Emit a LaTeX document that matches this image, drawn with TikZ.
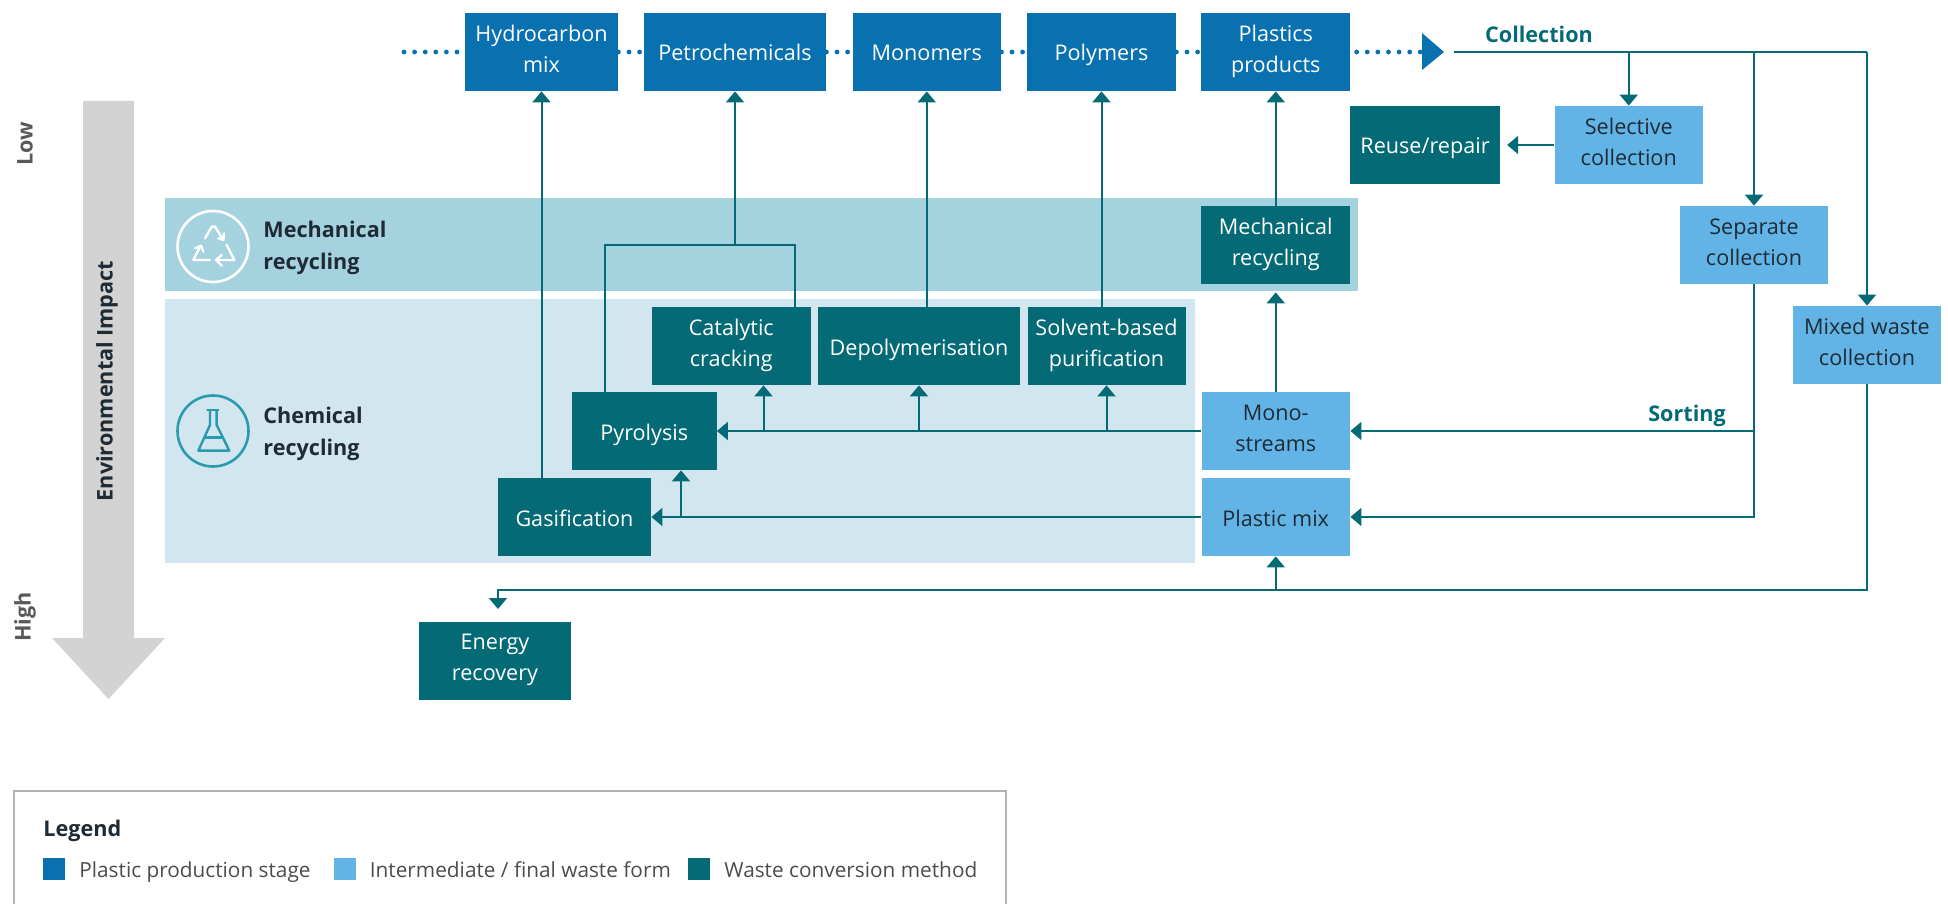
\documentclass[tikz,border=0pt]{standalone}
\usepackage{fontspec}
\setmainfont{Open Sans}
\usetikzlibrary{arrows.meta}

\definecolor{prodblue}{HTML}{0A71B1}
\definecolor{wasteblue}{HTML}{62B4E6}
\definecolor{convteal}{HTML}{046A75}
\definecolor{mechband}{HTML}{A5D2DF}
\definecolor{chemband}{HTML}{D1E6EE}
\definecolor{impactgray}{HTML}{D3D3D3}
\definecolor{darktext}{HTML}{1E2B35}
\definecolor{flaskteal}{HTML}{2A9BAE}

\tikzset{
    stagebox/.style={minimum height=39pt, inner sep=0pt, align=center, font=\fontsize{10.8}{15.5}\selectfont,
        execute at begin node={\rule{0pt}{12pt}}, execute at end node={\rule[-3pt]{0pt}{3pt}}},
    twolines/.style={execute at begin node={\rule{0pt}{15.6pt}}},
    prodbox/.style={stagebox, fill=prodblue, text=white},
    wastebox/.style={stagebox, fill=wasteblue, text=darktext},
    convbox/.style={stagebox, fill=convteal, text=white},
    link/.style={draw=convteal, line width=1pt},
    flow/.style={link, -{Triangle[width=9pt,length=5.5pt]}},
    dotted row/.style={draw=prodblue, line width=2.4pt, line cap=round, dash pattern=on 0pt off 5.3pt},
    bandlabel/.style={anchor=west, inner sep=0pt, align=left, text=darktext, font=\fontsize{10.8}{16}\selectfont\bfseries},
    sidelabel/.style={rotate=90, text=black!65, font=\fontsize{10.8}{13}\selectfont\bfseries},
    legendtext/.style={anchor=base west, inner sep=0pt, text=black!70, font=\fontsize{10.4}{12}\selectfont},
    legendkey/.style={minimum size=11pt, inner sep=0pt}
}

\begin{document}
\begin{tikzpicture}[x=0.5pt, y=-0.5pt]

    \useasboundingbox (0,0) rectangle (1948,904);

    % bands
    \fill[mechband] (165,198) rectangle (1358,291);
    \fill[chemband] (165,299) rectangle (1195,563);

    % impact arrow
    \fill[impactgray] (83,101) -- (134,101) -- (134,638) -- (165,638) -- (108.5,699) -- (52,638) -- (83,638) -- cycle;
    \node[sidelabel] (Low) at (25,144) {Low};
    \node[sidelabel] (High) at (25,617) {High};
    \node[sidelabel, text=darktext] (Impact) at (107,381) {Environmental Impact};

    % band icons
    \node[draw=white, line width=1.3pt, circle, minimum size=35.5pt, inner sep=0pt] (MechIcon) at (213,246.5) {};
    \node[draw=flaskteal, line width=1.3pt, circle, minimum size=35.5pt, inner sep=0pt] (ChemIcon) at (213,431) {};
    \begin{scope}[shift={(170,205)}, x=0.1667pt, y=-0.1667pt, draw=white, line width=1.2pt, line join=round, line cap=round]
        \draw (105,100) -- (125,65) -- (135,65) -- (160,105);
        \draw (145,100) -- (160,105) -- (162,85);
        \draw (90,125) -- (70,165) -- (120,165);
        \draw (75,130) -- (93,122) -- (100,140);
        \draw (170,120) -- (193,165) -- (140,165);
        \draw (155,150) -- (138,165) -- (155,182);
    \end{scope}
    \begin{scope}[shift={(170,390)}, x=0.1667pt, y=-0.1667pt, draw=flaskteal, line width=1.2pt, line join=round, line cap=round]
        \draw (112,60) -- (145,60);
        \draw (120,60) -- (120,105) -- (85,182) -- (178,182) -- (140,105) -- (140,60);
        \draw (105,143) -- (158,143);
    \end{scope}
    \node[bandlabel] (MechText) at (263,248) {Mechanical\\recycling};
    \node[bandlabel] (ChemText) at (263,434) {Chemical\\recycling};

    % production stages
    \node[prodbox, twolines, minimum width=76.5pt] (Hydro) at (541.5,52) {Hydrocarbon\\mix};
    \node[prodbox, minimum width=91pt] (Petro) at (735,52) {Petrochemicals};
    \node[prodbox, minimum width=74.25pt] (Monomers) at (926.75,52) {Monomers};
    \node[prodbox, minimum width=74.5pt] (Polymers) at (1101.5,52) {Polymers};
    \node[prodbox, twolines, minimum width=74.5pt] (Products) at (1275.75,52) {Plastics\\products};

    % collection side
    \node[convbox, minimum width=74.75pt, execute at begin node={\rule{0pt}{10pt}}] (Reuse) at (1425,145) {Reuse/repair};
    \node[wastebox, twolines, minimum width=74.25pt] (Selective) at (1628.75,145) {Selective\\collection};
    \node[wastebox, twolines, minimum width=74pt] (Separate) at (1754,245) {Separate\\collection};
    \node[wastebox, twolines, minimum width=74pt] (Mixed) at (1867,345) {Mixed waste\\collection};
    \node[wastebox, twolines, minimum width=74.25pt] (Mono) at (1275.75,431) {Mono-\\streams};
    \node[wastebox, minimum width=74.25pt] (Plastic) at (1275.75,517) {Plastic mix};

    % conversion methods
    \node[convbox, twolines, minimum width=74.5pt] (Mech) at (1275.75,245) {Mechanical\\recycling};
    \node[convbox, twolines, minimum width=79.25pt] (Catalytic) at (731.25,346) {Catalytic\\cracking};
    \node[convbox, minimum width=101pt] (Depoly) at (919,346) {Depolymerisation};
    \node[convbox, twolines, minimum width=79pt] (Solvent) at (1106.5,346) {Solvent-based\\purification};
    \node[convbox, minimum width=72.25pt] (Pyrolysis) at (644.25,431) {Pyrolysis};
    \node[convbox, minimum width=76.5pt] (Gasif) at (574.5,517) {Gasification};
    \node[convbox, twolines, minimum width=76.25pt] (Energy) at (495,660.5) {Energy\\recovery};

    % free ends
    \coordinate (RowStart) at (404,52);
    \coordinate (RowEnd) at (1422,52);
    \coordinate (CollectStart) at (1454,52);
    \coordinate (PyroOut) at (604.5,392);
    \coordinate (CatOut) at (795,307);
    \coordinate (CatJoin) at (763.5,431);
    \coordinate (GasJoin) at (681,517);
    \coordinate (EnergyIn) at (498,609);

    % dotted row
    \draw[dotted row] (RowStart) -- (Hydro.west);
    \draw[dotted row] (Hydro.east) -- (Petro.west);
    \draw[dotted row] (Petro.east) -- (Monomers.west);
    \draw[dotted row] (Monomers.east) -- (Polymers.west);
    \draw[dotted row] (Polymers.east) -- (Products.west);
    \draw[dotted row] ([xshift=3pt]Products.east) -- (RowEnd);
    \fill[prodblue] (RowEnd |- 0,33) -- (1444,52) -- (RowEnd |- 0,70) -- cycle;

    % upward flows
    \draw[flow] (Hydro.south |- Gasif.north) -- (Hydro.south);
    \draw[flow] (Petro.south |- 0,245) -- (Petro.south);
    \draw[link] (PyroOut) |- (CatOut |- 0,245) -- (CatOut);
    \draw[flow] (Monomers.south |- Depoly.north) -- (Monomers.south);
    \draw[flow] (Polymers.south |- Solvent.north) -- (Polymers.south);
    \draw[flow] (Mech.north) -- (Products.south);
    \draw[flow, shorten >=4pt] (Mono.north) -- (Mech.south);

    % collection
    \draw[link] (CollectStart) -- (Mixed.north |- CollectStart);
    \draw[flow] (Mixed.north |- CollectStart) -- (Mixed.north);
    \draw[flow] (Selective.north |- CollectStart) -- (Selective.north);
    \draw[flow] (Separate.north |- CollectStart) -- (Separate.north);
    \draw[flow, shorten >=3.5pt] (Selective.west) -- (Reuse.east);
    \node[text=convteal, font=\fontsize{10.8}{13}\selectfont\bfseries] (Collection) at (1539,34) {Collection};

    % sorting
    \draw[flow] (Separate.south) |- (Plastic.east);
    \draw[flow] (Separate.south |- Mono.east) -- (Mono.east);
    \node[text=convteal, font=\fontsize{10.8}{13}\selectfont\bfseries] (Sorting) at (1687,416) {Sorting};

    % chemical flows
    \draw[flow] (Mono.west) -- (Pyrolysis.east);
    \draw[flow] (CatJoin) -- (CatJoin |- Catalytic.south);
    \draw[flow] (Depoly.south |- Mono.west) -- (Depoly.south);
    \draw[flow] (Solvent.south |- Mono.west) -- (Solvent.south);
    \draw[flow] (Plastic.west) -- (Gasif.east);
    \draw[flow] (GasJoin) -- (GasJoin |- Pyrolysis.south);

    % mixed waste
    \draw[flow] (Mixed.south) |- (EnergyIn |- 0,590) -- (EnergyIn);
    \draw[flow] (Plastic.south |- 0,590) -- (Plastic.south);

    % legend
    \draw[black!30, line width=1pt] (14,904) -- (14,791) -- (1006,791) -- (1006,904);
    \node[anchor=base west, inner sep=0pt, text=darktext, font=\fontsize{10.8}{13}\selectfont\bfseries] (LegendTitle) at (43,836) {Legend};
    \node[legendkey, fill=prodblue] (KeyProd) at (54,869) {};
    \node[legendtext] (TextProd) at (79,877) {Plastic production stage};
    \node[legendkey, fill=wasteblue] (KeyWaste) at (345,869) {};
    \node[legendtext] (TextWaste) at (369.5,877) {Intermediate / final waste form};
    \node[legendkey, fill=convteal] (KeyConv) at (699,869) {};
    \node[legendtext] (TextConv) at (724,877) {Waste conversion method};

\end{tikzpicture}
\end{document}
